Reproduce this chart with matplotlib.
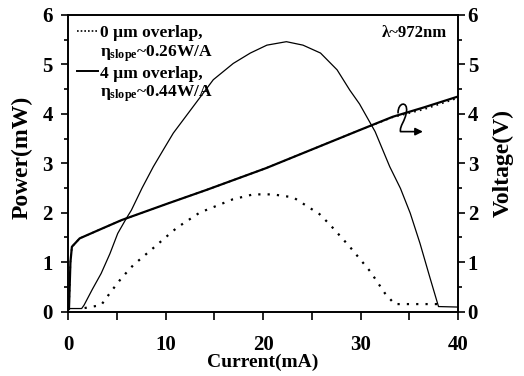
import numpy as np
import matplotlib
matplotlib.use("Agg")
import matplotlib.pyplot as plt
import matplotlib.ticker as ticker
from matplotlib.path import Path
from matplotlib.patches import FancyArrowPatch
from matplotlib.lines import Line2D

plt.rcParams['font.family'] = ['Liberation Serif', 'DejaVu Serif']
plt.rcParams['font.weight'] = 'bold'
plt.rcParams['mathtext.fontset'] = 'custom'
plt.rcParams['mathtext.rm'] = 'Liberation Serif:bold'
plt.rcParams['mathtext.it'] = 'Liberation Serif:bold'

# power, 4 um overlap (thin solid)
cur_4um = [0, 1.4, 1.65, 2.5, 3.4, 4.3, 5.1, 6.0, 6.5, 7.6, 8.75, 9.8, 10.8, 12.85, 14.9,
           16.95, 18.7, 20.4, 22.4, 24.1, 25.9, 27.6, 28.9, 29.9, 31.5, 33.0, 34.1, 35.1,
           36.1, 37.1, 38.0, 40]
pow_4um = [0.06, 0.06, 0.13, 0.45, 0.77, 1.17, 1.58, 1.89, 2.05, 2.5, 2.93, 3.28, 3.61, 4.15,
           4.69, 5.02, 5.23, 5.39, 5.46, 5.39, 5.23, 4.89, 4.48, 4.2, 3.64, 2.93, 2.49, 1.99,
           1.38, 0.70, 0.10, 0.09]

# power, 0 um overlap (dotted)
cur_0um = [1.7, 3.4, 4.4, 5.5, 6.7, 8.9, 10.3, 11.2, 13.5, 16.9, 19.0, 21.0, 23.1, 25.8,
           26.9, 28.9, 31.0, 32.5, 33.5, 38.2]
pow_0um = [0.07, 0.13, 0.4, 0.68, 0.94, 1.31, 1.55, 1.7, 2.0, 2.27, 2.37, 2.37, 2.31, 1.97,
           1.75, 1.31, 0.81, 0.37, 0.15, 0.15]

# voltage
cur_v = [0.1, 0.25, 0.4, 1.2, 3.4, 5.5, 10.3, 14.2, 20.3, 29.9, 33.3, 36.5, 40]
volt_4um = [0.05, 1.0, 1.31, 1.48, 1.67, 1.85, 2.19, 2.46, 2.9, 3.67, 3.94, 4.13, 4.35]
volt_0um = [0.05, 1.0, 1.31, 1.48, 1.67, 1.85, 2.19, 2.46, 2.9, 3.67, 3.93, 4.09, 4.32]

fig = plt.figure(figsize=(5.24, 3.76), dpi=100)
ax = fig.add_axes([68/524, 1 - 311.5/376, 390/524, 296.5/376])
ax2 = ax.twinx()

ax.plot(cur_4um, pow_4um, color='k', lw=0.9)
ax.plot(cur_0um, pow_0um, color='k', lw=1.6, linestyle=(0, (1, 3.2)))
ax2.plot(cur_v, volt_4um, color='k', lw=1.6)
ax2.plot(cur_v, volt_0um, color='k', lw=1.2, linestyle=(0, (1, 2.5)))

for a in (ax, ax2):
    a.set_xlim(0, 40)
    a.set_ylim(0, 6)
    a.yaxis.set_major_locator(ticker.MultipleLocator(1))
    a.yaxis.set_minor_locator(ticker.MultipleLocator(0.5))
    for s in a.spines.values():
        s.set_linewidth(1.2)

ax.xaxis.set_major_locator(ticker.MultipleLocator(10))
ax.xaxis.set_minor_locator(ticker.MultipleLocator(5))
ax.tick_params(axis='x', which='major', direction='out', length=6, width=1.2, pad=11, labelsize=15)
ax.tick_params(axis='x', which='minor', direction='out', length=6, width=1.2)
ax.tick_params(axis='y', which='major', direction='out', length=5, width=1.2, pad=6, labelsize=15)
ax.tick_params(axis='y', which='minor', direction='out', length=3, width=1.2)
ax2.tick_params(axis='y', which='major', direction='out', length=5, width=1.2, pad=2, labelsize=15)
ax2.tick_params(axis='y', which='minor', direction='out', length=3, width=1.2)

ax.set_xlabel('Current(mA)', fontsize=14, fontweight='bold', labelpad=-1)
ax.set_ylabel('Power(mW)', fontsize=17, fontweight='bold')
ax2.set_ylabel('Voltage(V)', fontsize=17, fontweight='bold', labelpad=10)
ax.yaxis.set_label_coords(-0.09, 0.52)

blank = Line2D([], [], color='none')
handles = [Line2D([], [], color='k', lw=1.2, linestyle=(0, (1, 1.2))), blank,
           Line2D([], [], color='k', lw=1.4), blank]
labels = ['0 \u00b5m overlap,', r'$\eta_{slope}$~0.26W/A',
          '4 \u00b5m overlap,', r'$\eta_{slope}$~0.44W/A']
ax.legend(handles, labels, loc='upper left', frameon=False, fontsize=12.5,
          handlelength=1.25, handletextpad=0.1, labelspacing=0.1,
          borderaxespad=0.1, bbox_to_anchor=(0.0, 0.995))

ax.text(0.972, 0.94, '\u03bb~972nm', transform=ax.transAxes, fontsize=12,
        fontweight='bold', ha='right', va='center')

# curl arrow pointing to the voltage axis
curl = Path([(33.85, 4.02), (33.85, 4.24), (34.85, 4.26), (34.72, 4.05),
             (34.6, 3.85), (34.0, 3.76), (34.1, 3.64), (36.4, 3.64)],
            [Path.MOVETO, Path.CURVE4, Path.CURVE4, Path.CURVE4,
             Path.CURVE4, Path.CURVE4, Path.CURVE4, Path.LINETO])
ax2.add_patch(FancyArrowPatch(path=curl, arrowstyle='-|>', mutation_scale=11,
                              color='k', lw=1.2, transform=ax2.transData))

fig.savefig('out.png', dpi=100)
